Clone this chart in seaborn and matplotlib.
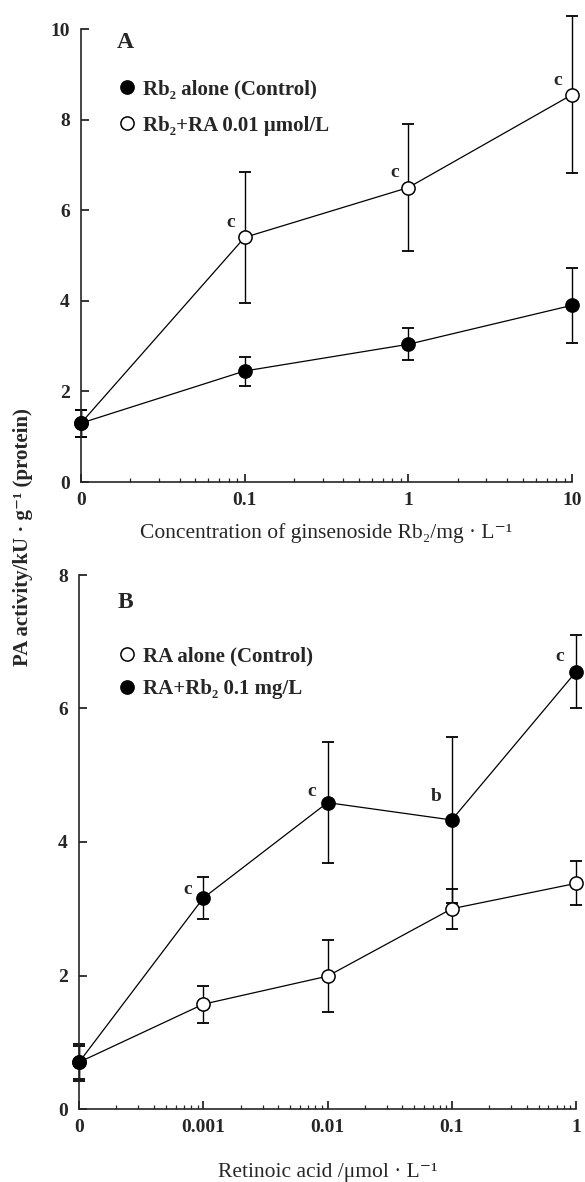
import numpy as np
import pandas as pd
import matplotlib
matplotlib.use("Agg")
import matplotlib.pyplot as plt
import seaborn as sns
from matplotlib.ticker import LogLocator, NullFormatter

# ---------------- data ----------------
# Panel A: x = ginsenoside Rb2 concentration (mg/L); "0" drawn one decade below 0.1
a_conc = [0.01, 0.1, 1, 10]
a_conc_labels = ["0", "0.1", "1", "10"]
a_ctrl = [1.30, 2.45, 3.04, 3.90]          # Rb2 alone (Control)
a_ctrl_err = [0.30, 0.32, 0.35, 0.83]
a_ra = [1.30, 5.40, 6.50, 8.55]            # Rb2 + RA 0.01 umol/L
a_ra_err = [0.30, 1.45, 1.40, 1.73]
a_sig = ["", "c", "c", "c"]
a_yticks = [0, 2, 4, 6, 8, 10]

# Panel B: x = retinoic acid (umol/L); "0" drawn one decade below 0.001
b_conc = [0.0001, 0.001, 0.01, 0.1, 1]
b_conc_labels = ["0", "0.001", "0.01", "0.1", "1"]
b_ctrl = [0.70, 1.57, 1.99, 3.00, 3.38]    # RA alone (Control)
b_ctrl_err = [0.28, 0.28, 0.54, 0.30, 0.33]
b_rb = [0.70, 3.16, 4.59, 4.33, 6.55]      # RA + Rb2 0.1 mg/L
b_rb_err = [0.25, 0.31, 0.91, 1.25, 0.55]
b_sig = ["", "c", "c", "b", "c"]
b_yticks = [0, 2, 4, 6, 8]

# ---------------- style ----------------
sns.set_style("ticks")
FAM = ["Liberation Serif", "DejaVu Serif"]
plt.rcParams["font.family"] = FAM
plt.rcParams["axes.linewidth"] = 1.2

fig = plt.figure(figsize=(5.85, 11.82), dpi=100)
axA = fig.add_axes([81 / 585, 1 - 482 / 1182, 491 / 585, 453 / 1182])
axB = fig.add_axes([79 / 585, 1 - 1109 / 1182, 497 / 585, 534 / 1182])


def draw_series(ax, x, y, err, filled, label):
    df = pd.DataFrame({"x": x, "y": y})
    z = 4 if filled else 3
    sns.lineplot(data=df, x="x", y="y", ax=ax, color="black", lw=0.9,
                 marker="o", markersize=9.5,
                 markerfacecolor="black" if filled else "white",
                 markeredgecolor="black", markeredgewidth=1.1,
                 label=label, zorder=z, clip_on=False)
    cont = ax.errorbar(x, y, yerr=err, fmt="none", ecolor="black",
                       elinewidth=1.0, capsize=4, capthick=1.3, zorder=2)
    for art in cont.get_children():
        art.set_clip_on(False)


def annotate(ax, x, y, sig, dx, dys):
    for xi, yi, s, dy in zip(x, y, sig, dys):
        if s:
            ax.annotate(s, (xi, yi), xytext=(dx, dy), textcoords="offset points",
                        ha="center", va="center", fontsize=14, fontweight="bold")


def style_axis(ax, xt, xl, yt, ylim, xlim):
    ax.set_xscale("log")
    ax.set_xlim(*xlim)
    ax.set_ylim(*ylim)
    ax.set_xticks(xt, xl)
    ax.xaxis.set_minor_locator(LogLocator(base=10, subs=np.arange(2, 10)))
    ax.xaxis.set_minor_formatter(NullFormatter())
    ax.set_yticks(yt)
    ax.tick_params(axis="both", which="major", direction="in", length=6,
                   width=1.3, labelsize=14)
    ax.tick_params(axis="x", which="major", pad=7)
    ax.tick_params(axis="y", which="major", pad=8)
    ax.tick_params(axis="x", which="minor", direction="in", length=3, width=0.9)
    for lab in ax.get_xticklabels() + ax.get_yticklabels():
        lab.set_fontweight("bold")
    sns.despine(ax=ax)
    ax.set_ylabel("")


def legend(ax, x, y, spacing):
    leg = ax.legend(loc="upper left", bbox_to_anchor=(x, y), frameon=False,
                    borderaxespad=0, borderpad=0, handlelength=0.9,
                    handletextpad=0.32, labelspacing=spacing,
                    prop={"family": FAM, "weight": "bold", "size": 15})
    for ln in leg.get_lines():
        ln.set_linestyle("none")


# ---------------- panel A ----------------
draw_series(axA, a_conc, a_ctrl, a_ctrl_err, True, "Rb\u2082 alone (Control)")
draw_series(axA, a_conc, a_ra, a_ra_err, False, "Rb\u2082+RA 0.01 \u03bcmol/L")
annotate(axA, a_conc, a_ra, a_sig, -10, [11, 11, 11, 10])
style_axis(axA, a_conc, a_conc_labels, a_yticks, (0, 10), (0.01, 10))
axA.set_xlabel("Concentration of ginsenoside Rb\u2082/mg \u00b7 L\u207b\u00b9",
               fontsize=15.5, labelpad=10)
legend(axA, 0.0745, 0.889, 0.78)
axA.text(0.0896, 0.971, "A", transform=axA.transAxes, ha="center", va="center",
         fontsize=17, fontweight="bold")

# ---------------- panel B ----------------
draw_series(axB, b_conc, b_ctrl, b_ctrl_err, False, "RA alone (Control)")
draw_series(axB, b_conc, b_rb, b_rb_err, True, "RA+Rb\u2082 0.1 mg/L")
annotate(axB, b_conc, b_rb, b_sig, -11.5, [0, 6, 8, 17, 11])
style_axis(axB, b_conc, b_conc_labels, b_yticks, (0, 8), (0.0001, 1))
axB.set_xlabel("Retinoic acid /\u03bcmol \u00b7 L\u207b\u00b9", fontsize=15.5, labelpad=20)
legend(axB, 0.078, 0.867, 0.62)
axB.text(0.0926, 0.949, "B", transform=axB.transAxes, ha="center", va="center",
         fontsize=17, fontweight="bold")

fig.text(0.039, 0.546, "PA activity/kU \u00b7 g\u207b\u00b9 (protein)", rotation=90,
         ha="center", va="center", fontsize=15, fontweight="bold")

fig.savefig("out.png", dpi=100)
